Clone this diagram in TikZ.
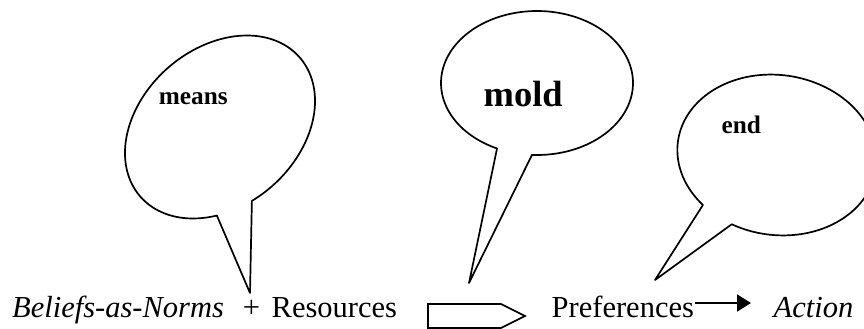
\documentclass[tikz,border=0pt]{standalone}
\usepackage{fontspec}
\setmainfont{Liberation Serif}
\usetikzlibrary{arrows.meta,calc}
\begin{document}
\begin{tikzpicture}[x=1pt,y=-1pt,
  bubble/.style={draw=black, fill=white, line width=1.7pt, line join=round},
  blockarrow/.style={draw=black, fill=white, line width=1.7pt, line join=miter},
  lbl/.style={inner sep=0pt, anchor=base west},
  bigtxt/.style={font=\fontsize{30.5}{36}\selectfont},
  smalltxt/.style={font=\fontsize{25.3}{30}\selectfont\bfseries},
  moldtxt/.style={font=\fontsize{36.5}{42}\selectfont\bfseries},
  flowarrow/.style={line width=1.9pt, -{Triangle[length=14pt,width=17pt]}}]
\useasboundingbox (0,0) rectangle (864,329);
\clip (0,0) rectangle (864,329);

% tail tips
\coordinate (tipA) at (250,293);
\coordinate (tipB) at (469,283);
\coordinate (tipC) at (655,280);

% bubble "means" (tilted ellipse)
\draw[bubble] plot[domain=256.5:595, samples=150, variable=\t]
  ({220+105.8*cos(\t)*cos(41.2)-78.8*sin(\t)*sin(41.2)},
   {127-(105.8*cos(\t)*sin(41.2)+78.8*sin(\t)*cos(41.2))}) -- (tipA) -- cycle;

% bubble "mold"
\draw[bubble] plot[domain=267:605.4, samples=150, variable=\t]
  ({537+96*cos(\t)}, {83-72*sin(\t)}) -- (tipB) -- cycle;

% bubble "end" (slightly tilted, cut by the right edge)
\draw[bubble] plot[domain=249.4:588.4, samples=150, variable=\t]
  ({777+100*cos(\t)*cos(-8)-80*sin(\t)*sin(-8)},
   {155-(100*cos(\t)*sin(-8)+80*sin(\t)*cos(-8))}) -- (tipC) -- cycle;

% bubble texts
\node[lbl, smalltxt] (means) at (158.6,104) {means};
\node[lbl, moldtxt] (mold) at (483.4,106) {mold};
\node[lbl, smalltxt] (end) at (721.4,133) {end};

% bottom line
\node[lbl, bigtxt] (beliefs) at (12,317) {\itshape Beliefs-as-Norms};
\node[inner sep=0pt, anchor=base, bigtxt] (plus) at (251.5,317) {+};
\node[lbl, bigtxt] (res) at (271.5,317) {Resources};
\node[lbl, bigtxt] (pref) at (551.5,317) {Preferences};
\node[lbl, bigtxt] (act) at (773.5,317) {\itshape Action};

% block arrow
\draw[blockarrow] (428,304) -- (501,304) -- (525,316) -- (501,328) -- (428,328) -- cycle;

% arrow Preferences -> Action
\draw[flowarrow] ($(pref.base east)+(1,-14)$) -- ($(act.base west)+(-22.5,-14)$);
\end{tikzpicture}
\end{document}
